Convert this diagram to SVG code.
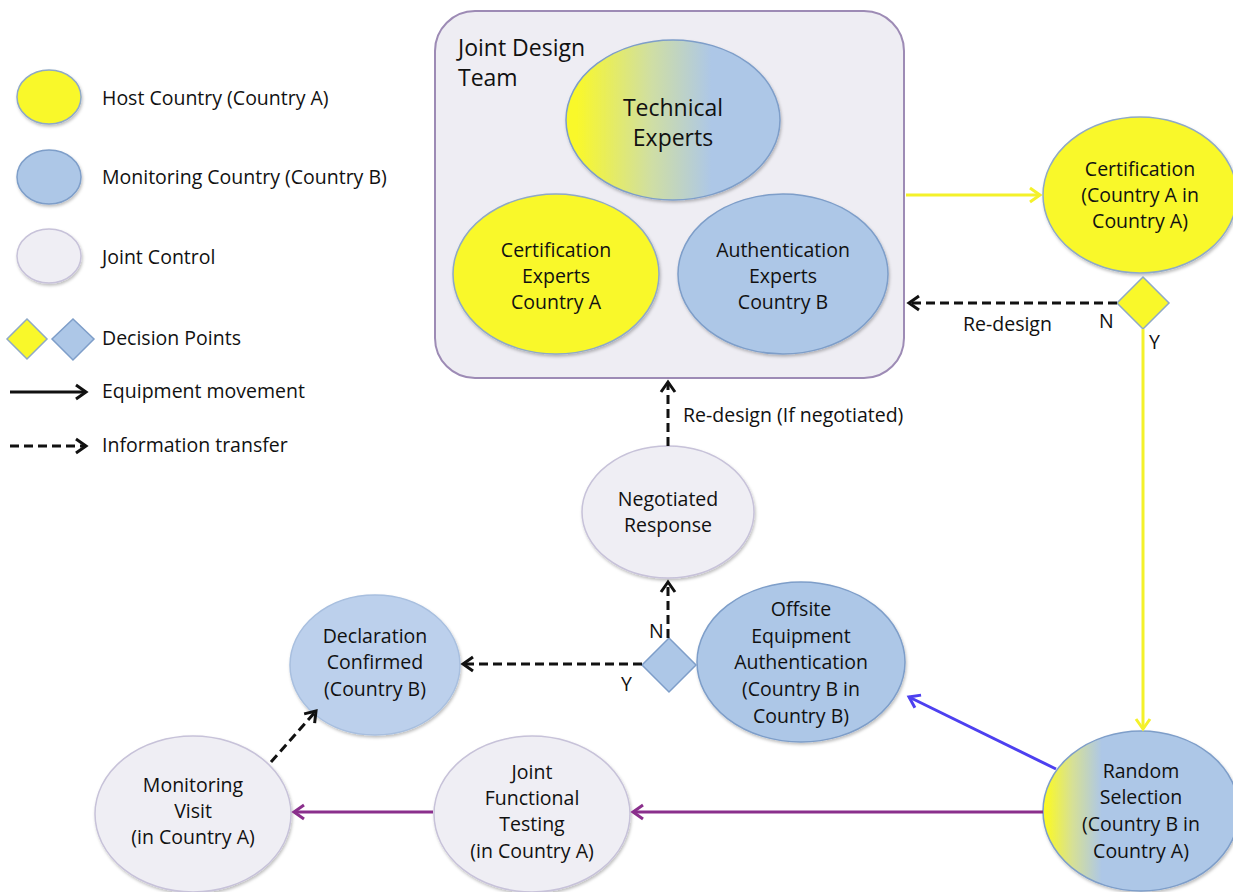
<svg xmlns="http://www.w3.org/2000/svg" width="1233" height="892" viewBox="0 0 1233 892">
<style>
text{font-family:"Open Sans",Lato,"Liberation Sans",sans-serif;fill:#111;}
.lg{font-size:19.5px;}
.nt{font-size:19.5px;text-anchor:middle;}
.big{font-size:23px;text-anchor:middle;}
.yel{fill:#f9f82a;stroke:#8fa9c6;stroke-width:1.5;filter:url(#sh);}
.blu{fill:#adc7e7;stroke:#7e9ec9;stroke-width:1.5;filter:url(#sh);}
.dec{fill:#bcd0ec;stroke:#a8bfdf;stroke-width:1.5;filter:url(#sh);}
.lt{fill:#efeef4;stroke:#c7c2d9;stroke-width:1.5;filter:url(#sh);}
.dash{fill:none;stroke:#111;stroke-width:3;stroke-dasharray:9,5;}
.solid{fill:none;stroke:#111;stroke-width:3;}
</style>
<defs>
<filter id="sh" x="-10%" y="-10%" width="125%" height="125%"><feDropShadow dx="1" dy="2" stdDeviation="1.5" flood-color="#000" flood-opacity="0.25"/></filter>
<linearGradient id="g1" x1="0" y1="0" x2="1" y2="0"><stop offset="0.05" stop-color="#f9f82a"/><stop offset="0.4" stop-color="#cfdea4"/><stop offset="0.68" stop-color="#adc7e7"/></linearGradient>
<linearGradient id="g2" x1="0" y1="0" x2="1" y2="0"><stop offset="0.02" stop-color="#f9f82a"/><stop offset="0.15" stop-color="#d6e096"/><stop offset="0.3" stop-color="#adc7e7"/></linearGradient>
<marker id="mk" viewBox="-12 -9 15 18" markerWidth="15" markerHeight="18" refX="0" refY="0" orient="auto" markerUnits="userSpaceOnUse"><path d="M-10,-7 L0,0 L-10,7" fill="none" stroke="#111" stroke-width="3"/></marker>
<marker id="my" viewBox="-12 -9 15 18" markerWidth="15" markerHeight="18" refX="0" refY="0" orient="auto" markerUnits="userSpaceOnUse"><path d="M-10,-7 L0,0 L-10,7" fill="none" stroke="#f4f12a" stroke-width="3"/></marker>
<marker id="mp" viewBox="-12 -9 15 18" markerWidth="15" markerHeight="18" refX="0" refY="0" orient="auto" markerUnits="userSpaceOnUse"><path d="M-10,-7 L0,0 L-10,7" fill="none" stroke="#8a2f8c" stroke-width="3"/></marker>
<marker id="mb" viewBox="-12 -9 15 18" markerWidth="15" markerHeight="18" refX="0" refY="0" orient="auto" markerUnits="userSpaceOnUse"><path d="M-10,-7 L0,0 L-10,7" fill="none" stroke="#4d40f0" stroke-width="3"/></marker>
</defs>

<g id="legend">
<ellipse class="yel" cx="49" cy="97" rx="32" ry="27"/>
<ellipse class="blu" cx="49" cy="177" rx="32" ry="27"/>
<ellipse class="lt" cx="49" cy="256" rx="32" ry="27"/>
<polygon points="27,319 47,339 27,359 7,339" fill="#f9f82a" stroke="#8fa9c6" stroke-width="1.5"/>
<polygon points="73,319 94,339 73,360 52,339" fill="#adc7e7" stroke="#7e9ec9" stroke-width="1.5"/>
<line class="solid" x1="10" y1="392" x2="86" y2="392" marker-end="url(#mk)"/>
<line class="dash" x1="10" y1="446" x2="86" y2="446" marker-end="url(#mk)"/>
<text class="lg" x="102" y="105">Host Country (Country A)</text>
<text class="lg" x="102" y="184">Monitoring Country (Country B)</text>
<text class="lg" x="102" y="264">Joint Control</text>
<text class="lg" x="102" y="345">Decision Points</text>
<text class="lg" x="102" y="398">Equipment movement</text>
<text class="lg" x="102" y="452">Information transfer</text>
</g>

<g id="joint-design-team">
<rect x="435" y="11" width="469" height="367" rx="40" fill="#eeedf3" stroke="#9d8bb5" stroke-width="2"/>
<text x="458" y="56" style="font-size:23px">Joint Design</text>
<text x="458" y="86" style="font-size:23px">Team</text>
</g>
<g id="technical-experts">
<ellipse cx="673" cy="120" rx="107" ry="80" fill="url(#g1)" stroke="#7e9ec9" stroke-width="1.5" filter="url(#sh)"/>
<text class="big" x="673" y="116">Technical</text>
<text class="big" x="673" y="146">Experts</text>
</g>
<g id="certification-experts">
<ellipse class="yel" cx="556" cy="274" rx="103" ry="80"/>
<text class="nt" x="556" y="257">Certification</text>
<text class="nt" x="556" y="283">Experts</text>
<text class="nt" x="556" y="309">Country A</text>
</g>
<g id="authentication-experts">
<ellipse class="blu" cx="783" cy="274" rx="105" ry="80"/>
<text class="nt" x="783" y="257">Authentication</text>
<text class="nt" x="783" y="283">Experts</text>
<text class="nt" x="783" y="309">Country B</text>
</g>

<g id="certification">
<ellipse class="yel" cx="1140" cy="195" rx="97" ry="78"/>
<text class="nt" x="1140" y="176">Certification</text>
<text class="nt" x="1140" y="202">(Country A in</text>
<text class="nt" x="1140" y="228">Country A)</text>
</g>
<g id="decision-cert">
<polygon points="1143,277 1169,303 1143,329 1117,303" fill="#f9f82a" stroke="#8fa9c6" stroke-width="1.5"/>
</g>

<g id="random-selection">
<ellipse cx="1141" cy="811" rx="98" ry="80" fill="url(#g2)" stroke="#7e9ec9" stroke-width="1.5" filter="url(#sh)"/>
<text class="nt" x="1141" y="778">Random</text>
<text class="nt" x="1141" y="804">Selection</text>
<text class="nt" x="1141" y="831">(Country B in</text>
<text class="nt" x="1141" y="858">Country A)</text>
</g>

<g id="offsite-authentication">
<ellipse class="blu" cx="801" cy="662" rx="104" ry="80"/>
<text class="nt" x="801" y="616">Offsite</text>
<text class="nt" x="801" y="643">Equipment</text>
<text class="nt" x="801" y="669">Authentication</text>
<text class="nt" x="801" y="696">(Country B in</text>
<text class="nt" x="801" y="723">Country B)</text>
</g>

<g id="decision-auth">
<polygon points="669,638 696,665 669,692 642,665" fill="#adc7e7" stroke="#7e9ec9" stroke-width="1.5"/>
</g>

<g id="negotiated-response">
<ellipse class="lt" cx="668" cy="512" rx="86" ry="66"/>
<text class="nt" x="668" y="506">Negotiated</text>
<text class="nt" x="668" y="532">Response</text>
</g>

<g id="declaration-confirmed">
<ellipse class="dec" cx="375" cy="665" rx="85" ry="70"/>
<text class="nt" x="375" y="643">Declaration</text>
<text class="nt" x="375" y="669">Confirmed</text>
<text class="nt" x="375" y="696">(Country B)</text>
</g>

<g id="monitoring-visit">
<ellipse class="lt" cx="193" cy="814" rx="98" ry="78"/>
<text class="nt" x="193" y="792">Monitoring</text>
<text class="nt" x="193" y="818">Visit</text>
<text class="nt" x="193" y="844">(in Country A)</text>
</g>

<g id="joint-functional-testing">
<ellipse class="lt" cx="532" cy="814" rx="98" ry="78"/>
<text class="nt" x="532" y="779">Joint</text>
<text class="nt" x="532" y="805">Functional</text>
<text class="nt" x="532" y="831">Testing</text>
<text class="nt" x="532" y="858">(in Country A)</text>
</g>

<g id="connectors">
<line x1="906" y1="195" x2="1040" y2="195" stroke="#f4f12a" stroke-width="3" marker-end="url(#my)"/>
<line class="dash" x1="1117" y1="303" x2="909" y2="303" marker-end="url(#mk)"/>
<line x1="1143" y1="329" x2="1143" y2="729" stroke="#f4f12a" stroke-width="3" marker-end="url(#my)"/>
<line x1="1043" y1="812" x2="633" y2="812" stroke="#8a2f8c" stroke-width="3" marker-end="url(#mp)"/>
<line x1="433" y1="812" x2="294" y2="812" stroke="#8a2f8c" stroke-width="3" marker-end="url(#mp)"/>
<line x1="1056" y1="769" x2="909" y2="697" stroke="#4d40f0" stroke-width="3" marker-end="url(#mb)"/>
<line class="dash" x1="668" y1="638" x2="668" y2="582" marker-end="url(#mk)"/>
<line class="dash" x1="668" y1="446" x2="668" y2="382" marker-end="url(#mk)"/>
<line class="dash" x1="642" y1="664" x2="463" y2="664" marker-end="url(#mk)"/>
<line class="dash" x1="271" y1="762" x2="316" y2="711" marker-end="url(#mk)"/>
<text class="lg" x="963" y="331">Re-design</text>
<text class="lg" x="1099" y="328">N</text>
<text class="lg" x="1149" y="349">Y</text>
<text class="lg" x="683" y="422">Re-design (If negotiated)</text>
<text class="lg" x="649" y="638">N</text>
<text class="lg" x="621" y="691">Y</text>
</g>
</svg>
